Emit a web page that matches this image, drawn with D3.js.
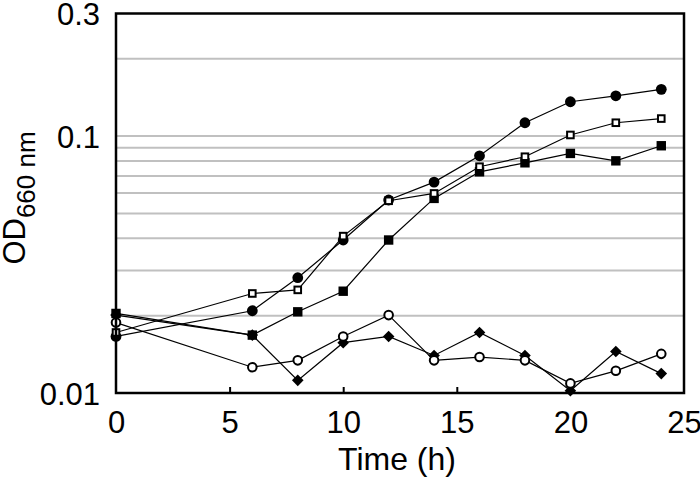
<!DOCTYPE html>
<html>
<head>
<meta charset="utf-8">
<script src="https://cdn.jsdelivr.net/npm/d3@7"></script>
<style>
  html, body { margin: 0; padding: 0; background: #fff; }
  svg { display: block; font-family: "Liberation Sans", Arial, sans-serif; }
</style>
</head>
<body>
<svg id="chart" width="700" height="482"></svg>
<script>
// ---- data ----
const times = [0, 6, 8, 10, 12, 14, 16, 18, 20, 22, 24];
const filledCircle = [0.0166, 0.0209, 0.0281, 0.0394, 0.0564, 0.0662, 0.0838, 0.1127, 0.136, 0.1435, 0.152];
const openSquare   = [0.0172, 0.0244, 0.0252, 0.0408, 0.0560, 0.0598, 0.0760, 0.0831, 0.101, 0.1127, 0.117];
const filledSquare = [0.0204, 0.0168, 0.0207, 0.0249, 0.0394, 0.0572, 0.0726, 0.0787, 0.0856, 0.0801, 0.0917];
const openCircle   = [0.0188, 0.0126, 0.0134, 0.0166, 0.0201, 0.0134, 0.0138, 0.0134, 0.0109, 0.0122, 0.0142];
const filledDiamond= [0.0201, 0.0168, 0.0112, 0.0157, 0.0166, 0.0140, 0.0172, 0.0140, 0.0102, 0.0145, 0.0119];
const xTicks = [0, 5, 10, 15, 20, 25];
const yTickValues = [0.01, 0.1, 0.3];
const yTickLabels = ["0.01", "0.1", "0.3"];
const yGridValues = [0.02, 0.03, 0.04, 0.05, 0.06, 0.07, 0.08, 0.09, 0.1, 0.2];

// ---- layout ----
const L = 116, R = 684, T = 13.5, B = 393;
const svg = d3.select("#chart");
const x = d3.scaleLinear().domain([0, 25]).range([L, R]);
const y = d3.scaleLog().domain([0.01, 0.3]).range([B, T]);

// gridlines
svg.append("g").selectAll("line").data(yGridValues).join("line")
  .attr("x1", L).attr("x2", R)
  .attr("y1", d => y(d)).attr("y2", d => y(d))
  .attr("stroke", "#c0c0c0").attr("stroke-width", 2);

// x axis ticks (inside) via d3 axis
const xAxis = svg.append("g").attr("transform", `translate(0,${B})`)
  .call(d3.axisBottom(x).tickValues(xTicks).tickSizeInner(-6).tickSizeOuter(0).tickPadding(16).tickFormat(d3.format("d")));
xAxis.select(".domain").remove();
xAxis.selectAll(".tick line").attr("stroke", "#000").attr("stroke-width", 2)
  .attr("display", d => (d === 0 || d === 25) ? "none" : null);
xAxis.selectAll(".tick text").attr("font-size", 31).attr("fill", "#000")
  .attr("font-family", "Liberation Sans, Arial, sans-serif").attr("dy", 0).attr("y", 40);

// y axis labels via d3 axis
const yAxis = svg.append("g").attr("transform", `translate(${L},0)`)
  .call(d3.axisLeft(y).tickValues(yTickValues).tickSize(0).tickPadding(16)
    .tickFormat((d, i) => yTickLabels[i]));
yAxis.select(".domain").remove();
yAxis.selectAll(".tick text").attr("font-size", 31).attr("fill", "#000")
  .attr("font-family", "Liberation Sans, Arial, sans-serif").attr("dy", "0.36em");

// series
const line = d3.line().x(d => x(d.t)).y(d => y(d.v));
const mk = arr => times.map((t, i) => ({ t, v: arr[i] }));
const series = [
  { data: mk(filledSquare), type: "filledSquare" },
  { data: mk(filledCircle), type: "filledCircle" },
  { data: mk(openSquare), type: "openSquare" },
  { data: mk(filledDiamond), type: "filledDiamond" },
  { data: mk(openCircle), type: "openCircle" }
];

const gLines = svg.append("g");
series.forEach(s => {
  gLines.append("path").datum(s.data).attr("d", line)
    .attr("fill", "none").attr("stroke", "#000").attr("stroke-width", 1.2);
});

const gMarks = svg.append("g");
series.forEach(s => {
  const g = gMarks.append("g");
  const sel = g.selectAll("g").data(s.data).join("g")
    .attr("transform", d => `translate(${x(d.t)},${y(d.v)})`);
  if (s.type === "filledCircle") {
    sel.append("circle").attr("r", 5.4).attr("fill", "#000");
  } else if (s.type === "openCircle") {
    sel.append("circle").attr("r", 4.3).attr("fill", "#fff").attr("stroke", "#000").attr("stroke-width", 2);
  } else if (s.type === "filledSquare") {
    sel.append("rect").attr("x", -4.7).attr("y", -4.7).attr("width", 9.4).attr("height", 9.4).attr("fill", "#000");
  } else if (s.type === "openSquare") {
    sel.append("rect").attr("x", -3.3).attr("y", -3.3).attr("width", 6.6).attr("height", 6.6)
      .attr("fill", "#fff").attr("stroke", "#000").attr("stroke-width", 2);
  } else if (s.type === "filledDiamond") {
    sel.append("path").attr("d", "M0,-5.8L5.8,0L0,5.8L-5.8,0Z").attr("fill", "#000");
  }
});

// frame
svg.append("rect").attr("x", L).attr("y", T).attr("width", R - L).attr("height", B - T)
  .attr("fill", "none").attr("stroke", "#000").attr("stroke-width", 2.5);

// axis titles
svg.append("text").attr("x", 397).attr("y", 470)
  .attr("text-anchor", "middle").attr("font-size", 32).attr("fill", "#000")
  .text("Time (h)");

const yt = svg.append("text")
  .attr("transform", "translate(25,198) rotate(-90)")
  .attr("text-anchor", "middle").attr("font-size", 31).attr("fill", "#000");
yt.append("tspan").text("OD");
yt.append("tspan").attr("font-size", 26).attr("dy", 10).text("660 nm");
</script>
</body>
</html>
